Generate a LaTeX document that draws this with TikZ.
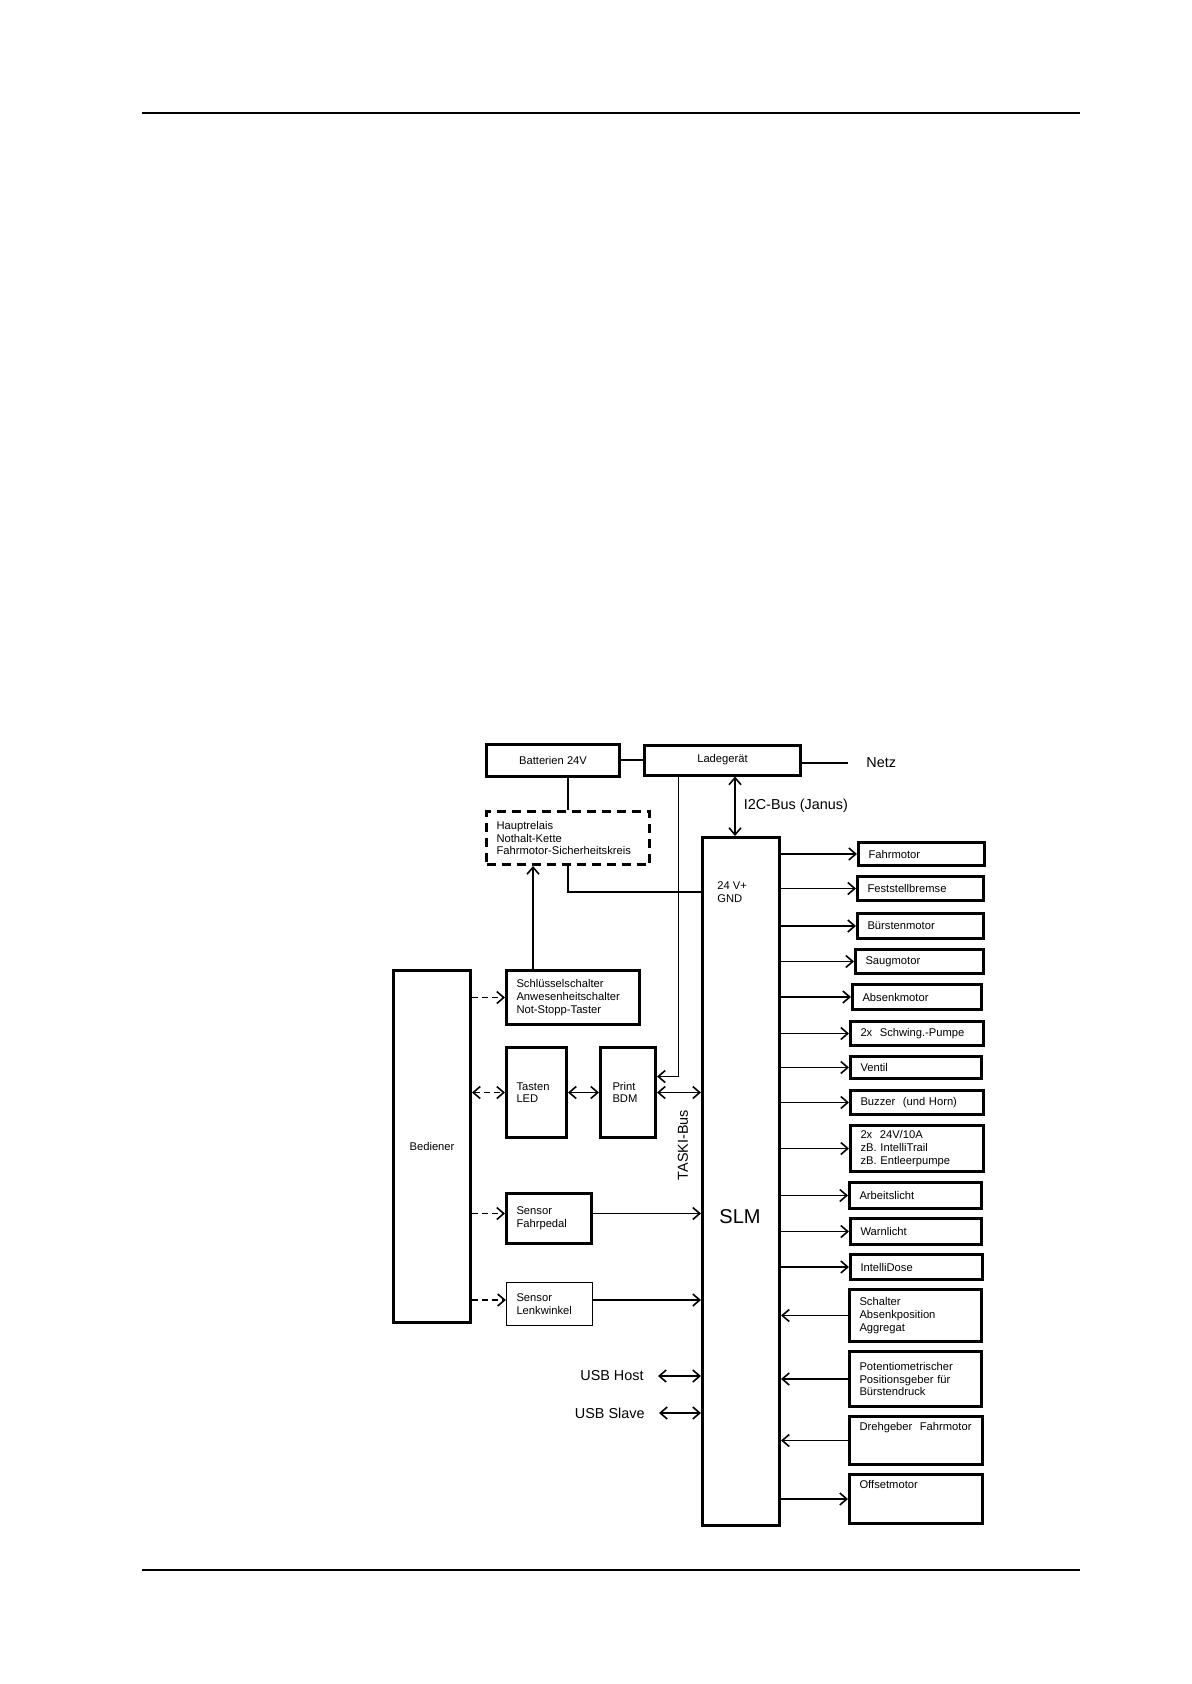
\documentclass[tikz,border=0pt]{standalone}
\usepackage{fontspec}
\setmainfont{Liberation Sans}
\usetikzlibrary{arrows.meta}
\tikzset{
  box/.style={draw, line width=1.5pt, rectangle, inner xsep=5pt, inner ysep=1pt, align=left, font=\fontsize{5.6}{6.3}\selectfont},
  cbox/.style={box, align=center},
  wire/.style={line width=0.8pt},
  arr/.style={wire, -{Straight Barb[length=3.5pt,width=6pt]}},
  darr/.style={wire, {Straight Barb[length=3.5pt,width=6pt]}-{Straight Barb[length=3.5pt,width=6pt]}},
  dsh/.style={dash pattern=on 3pt off 2pt},
  lbl/.style={font=\fontsize{7.2}{8.5}\selectfont, inner sep=1pt},
}
\begin{document}
\begin{tikzpicture}[x=0.5pt,y=-0.5pt]
 \useasboundingbox (0,0) rectangle (1191,1684);
 \draw[line width=1pt] (142,113) -- (1080,113);
 \draw[line width=1pt] (142,1570) -- (1080,1570);

 % power supply
 \node[cbox, minimum width=66.5pt, minimum height=16pt] (batt) at (553,760) {Batterien 24V};
 \node[cbox, minimum width=78pt, minimum height=15pt] (lade) at (722.5,760) {Ladegerät};
 \node[lbl, anchor=west] (netz) at (864,763) {Netz};
 \node[box, dash pattern=on 4.5pt off 3pt, text width=71.5pt, minimum height=26.5pt] (relais) at (568,838) {Hauptrelais\\Nothalt-Kette\\Fahrmotor-Sicherheitskreis};

 % controller
 \node[box, minimum width=38.5pt, minimum height=344pt] (slm) at (741,1181.5) {};
 \node[anchor=west, align=left, inner sep=1pt, font=\fontsize{5.6}{6.3}\selectfont] (pwr) at (715,892) {24 V+\\GND};
 \node[font=\fontsize{10}{12}\selectfont] (slmtxt) at (740,1217) {SLM};
 \node[lbl, rotate=90] (taski) at (683,1145) {TASKI-Bus};

 % operator side
 \node[cbox, minimum width=38.5pt, minimum height=176pt] (bed) at (432,1146.5) {Bediener};
 \node[box, text width=56.5pt, minimum height=27pt] (schl) at (573,997.5) {Schlüsselschalter\\Anwesenheitschalter\\Not-Stopp-Taster};
 \node[box, text width=20pt, minimum height=45pt] (tasten) at (536.5,1092.5) {Tasten\\LED};
 \node[box, inner xsep=6pt, text width=15.5pt, minimum height=45pt] (print) at (628,1092.5) {Print\\BDM};
 \node[box, text width=32.5pt, minimum height=25pt] (pedal) at (549,1218.5) {Sensor\\Fahrpedal};
 \node[box, line width=0.6pt, text width=33pt, minimum height=21.4pt] (lenk) at (549.5,1304) {Sensor\\Lenkwinkel};
 \node[lbl, anchor=east] (usbh) at (646,1376) {USB Host};
 \node[lbl, anchor=east] (usbs) at (647,1413) {USB Slave};

 % outputs and inputs
 \node[box, text width=53pt, minimum height=11.5pt] (fahr) at (921.5,854) {Fahrmotor};
 \node[box, text width=53pt, minimum height=12pt] (fest) at (920.5,888.5) {Feststellbremse};
 \node[box, text width=53pt, minimum height=12.5pt] (buerst) at (920.5,926) {Bürstenmotor};
 \node[box, text width=54pt, minimum height=12pt] (saug) at (919.5,961.5) {Saugmotor};
 \node[box, text width=54.5pt, minimum height=12.5pt] (absenk) at (917,997) {Absenkmotor};
 \node[box, text width=56.5pt, minimum height=12pt] (schwing) at (917,1033.5) {2x~ Schwing.-Pumpe};
 \node[box, text width=55.5pt, minimum height=11pt] (ventil) at (916,1067.5) {Ventil};
 \node[box, text width=56.5pt, minimum height=12pt] (buzzer) at (917,1102.5) {Buzzer~ (und Horn)};
 \node[box, text width=56.5pt, minimum height=23pt] (last) at (917,1148.5) {2x~ 24V/10A\\zB. IntelliTrail\\zB. Entleerpumpe};
 \node[box, text width=56pt, minimum height=13pt] (arbeit) at (915.5,1195.5) {Arbeitslicht};
 \node[box, text width=55.5pt, minimum height=13pt] (warn) at (916,1231.5) {Warnlicht};
 \node[box, text width=56pt, minimum height=12.5pt] (dose) at (916.5,1267) {IntelliDose};
 \node[box, text width=56pt, minimum height=26pt] (schalter) at (915.5,1315.5) {Schalter\\Absenkposition\\Aggregat};
 \node[box, text width=56pt, minimum height=27.5pt] (poti) at (915.5,1379) {Potentiometrischer\\Positionsgeber für\\Bürstendruck};
 \node[box, text width=56.5pt, inner ysep=3pt, text depth=14pt, minimum height=24pt] (dreh) at (916,1440.5) {Drehgeber~ Fahrmotor};
 \node[box, text width=56.5pt, inner ysep=3pt, text depth=14.5pt, minimum height=24.5pt] (offset) at (916,1499) {Offsetmotor};

 \coordinate (ibus) at ([xshift=-3pt]slm.north);
 \coordinate (ltap) at ([xshift=-22pt]lade.south);
 \coordinate (skey) at ([xshift=-20pt]schl.north);
 \coordinate (ped) at ([yshift=2.5pt]pedal.west);
 \coordinate (lw) at ([yshift=2pt]lenk.west);
 \coordinate (mains) at ([xshift=-8pt]netz.west);

 \draw[wire] (batt.east) -- (lade.west);
 \draw[wire] (lade.east |- mains) -- (mains);
 \draw[wire] (relais.north |- batt.south) -- (relais.north);
 \draw[wire] (relais.south) |- (slm.west |- pwr.west);
 \draw[darr] (ibus |- lade.south) -- (ibus) node[lbl, midway, right=3pt] (i2c) {I2C-Bus (Janus)};
 \draw[arr] (ltap) |- ([yshift=8pt]print.east);
 \draw[arr] (skey) -- (skey |- relais.south);

 \draw[arr, dsh] (bed.east |- schl.west) -- (schl.west);
 \draw[darr, dsh] (bed.east |- tasten.west) -- (tasten.west);
 \draw[darr] (tasten.east) -- (print.west);
 \draw[darr] (print.east) -- (slm.west |- print.east);
 \draw[arr, dsh] (bed.east |- ped) -- (ped);
 \draw[arr] (pedal.east |- ped) -- (slm.west |- ped);
 \draw[arr, dsh] (bed.east |- lw) -- (lw);
 \draw[arr] (lenk.east |- lw) -- (slm.west |- lw);
 \draw[darr] ([xshift=6pt]usbh.east) -- (slm.west |- usbh.east);
 \draw[darr] ([xshift=6pt]usbs.east) -- (slm.west |- usbs.east);

 \draw[arr] (slm.east |- fahr.west) -- (fahr.west);
 \draw[arr] (slm.east |- fest.west) -- (fest.west);
 \draw[arr] (slm.east |- buerst.west) -- (buerst.west);
 \draw[arr] (slm.east |- saug.west) -- (saug.west);
 \draw[arr] (slm.east |- absenk.west) -- (absenk.west);
 \draw[arr] (slm.east |- schwing.west) -- (schwing.west);
 \draw[arr] (slm.east |- ventil.west) -- (ventil.west);
 \draw[arr] (slm.east |- buzzer.west) -- (buzzer.west);
 \draw[arr] (slm.east |- last.west) -- (last.west);
 \draw[arr] (slm.east |- arbeit.west) -- (arbeit.west);
 \draw[arr] (slm.east |- warn.west) -- (warn.west);
 \draw[arr] (slm.east |- dose.west) -- (dose.west);
 \draw[arr] (schalter.west) -- (slm.east |- schalter.west);
 \draw[arr] (poti.west) -- (slm.east |- poti.west);
 \draw[arr] (dreh.west) -- (slm.east |- dreh.west);
 \draw[arr] (slm.east |- offset.west) -- (offset.west);
\end{tikzpicture}
\end{document}
